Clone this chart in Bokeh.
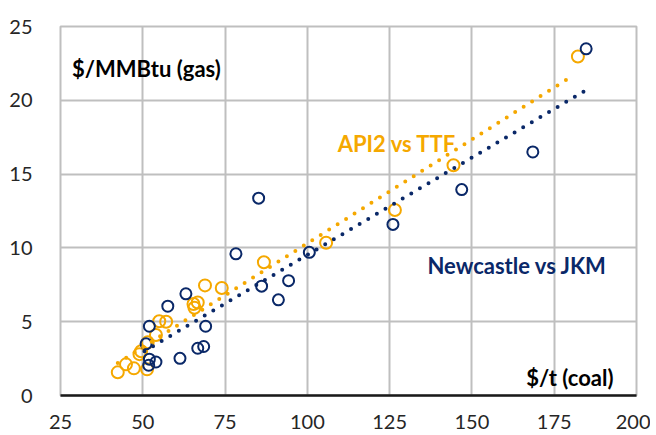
from bokeh.plotting import figure
from bokeh.models import Label, FixedTicker, Range1d
from bokeh.embed import file_html
from bokeh.resources import INLINE

# Newcastle coal ($/t) vs JKM gas ($/MMBtu)
ncl_x = [51.8, 52.0, 54.0, 51.0, 52.0, 57.6, 63.1, 61.3, 66.7, 68.5, 69.1,
         78.3, 86.1, 91.2, 94.3, 85.2, 100.6, 126.0, 146.9, 168.5, 184.7]
ncl_y = [2.05, 2.46, 2.27, 3.50, 4.69, 6.05, 6.89, 2.52, 3.20, 3.32, 4.69,
         9.60, 7.41, 6.48, 7.78, 13.37, 9.70, 11.59, 13.95, 16.50, 23.49]

# API2 coal ($/t) vs TTF gas ($/MMBtu)
api_x = [42.4, 44.9, 47.3, 51.3, 49.0, 49.5, 51.5, 54.0, 55.0, 57.1,
         65.4, 66.7, 65.7, 68.9, 74.0, 86.8, 105.7, 126.6, 144.4, 182.2]
api_y = [1.57, 2.11, 1.84, 1.77, 2.80, 3.00, 3.60, 4.10, 5.03, 5.00,
         6.20, 6.30, 5.95, 7.46, 7.28, 9.03, 10.35, 12.57, 15.60, 22.97]

# linear trendlines (end points)
ncl_trend_x = [50.5, 184.0]
ncl_trend_y = [3.0, 20.6]
api_trend_x = [42.4, 180.9]
api_trend_y = [2.2, 21.7]

x_ticks = [25, 50, 75, 100, 125, 150, 175, 200]
y_ticks = [0, 5, 10, 15, 20, 25]

NAVY = "#0A2868"
ORANGE = "#F5A800"
GRID = "#BFBFBF"
FONT = "Lato"

p = figure(width=650, height=433, output_backend="svg", toolbar_location=None,
           x_range=Range1d(25, 200), y_range=Range1d(0, 25),
           min_border_left=60, min_border_right=14, min_border_top=26,
           min_border_bottom=38)

p.background_fill_color = "white"
p.border_fill_color = "white"
p.outline_line_color = GRID
p.outline_line_width = 2

p.xaxis.ticker = FixedTicker(ticks=x_ticks)
p.yaxis.ticker = FixedTicker(ticks=y_ticks)
for ax in (p.xaxis[0], p.yaxis[0]):
    ax.major_tick_line_color = None
    ax.minor_tick_line_color = None
    ax.major_label_text_font = FONT
    ax.major_label_text_font_size = "20px"
    ax.major_label_text_color = "#262626"
p.xaxis.axis_line_color = "#1a1a1a"
p.xaxis.axis_line_width = 2.5
p.xaxis.major_label_standoff = 13
p.yaxis.axis_line_color = None
p.yaxis.major_label_standoff = 22

p.xgrid.ticker = FixedTicker(ticks=x_ticks)
p.ygrid.ticker = FixedTicker(ticks=y_ticks)
for g in (p.xgrid[0], p.ygrid[0]):
    g.grid_line_color = GRID
    g.grid_line_width = 2

p.scatter(api_x, api_y, marker="circle", size=12, fill_color=None,
          line_color=ORANGE, line_width=2)
p.scatter(ncl_x, ncl_y, marker="circle", size=11, fill_color=None,
          line_color=NAVY, line_width=2)

p.line(api_trend_x, api_trend_y, line_color=ORANGE, line_width=4,
       line_dash="0 10", line_cap="round")
p.line(ncl_trend_x, ncl_trend_y, line_color=NAVY, line_width=4,
       line_dash="0 10", line_cap="round")

labels = [
    ("$/MMBtu (gas)", 28.5, 22.15, "left", "black"),
    ("API2 vs TTF", 109.2, 17.04, "left", ORANGE),
    ("Newcastle  vs JKM", 136.5, 8.81, "left", NAVY),
    ("$/t (coal)", 193.0, 1.24, "right", "black"),
]
for txt, lx, ly, al, col in labels:
    p.add_layout(Label(x=lx, y=ly, text=txt, text_align=al,
                       text_baseline="middle", text_font=FONT,
                       text_font_style="bold", text_font_size="22px",
                       text_color=col))

open("out.html", "w").write(file_html(p, INLINE))
